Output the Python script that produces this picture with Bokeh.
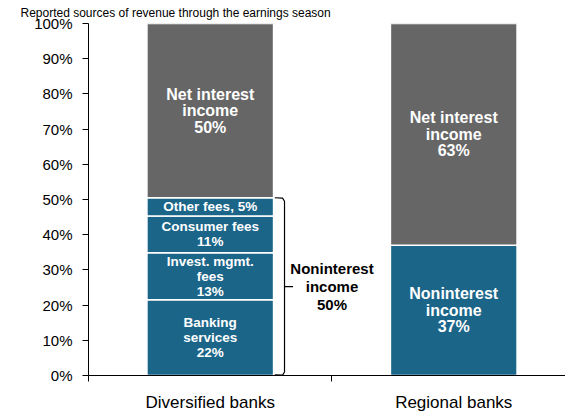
from bokeh.plotting import figure
from bokeh.models import Range1d, FixedTicker, ColumnDataSource
from bokeh.core.properties import value
from bokeh.embed import file_html
from bokeh.resources import INLINE

# ---- data ----
title_text = "Reported sources of revenue through the earnings season"
categories = ["Diversified banks", "Regional banks"]
div_labels = ["Banking\nservices\n22%", "Invest. mgmt.\nfees\n13%", "Consumer fees\n11%",
              "Other fees, 5%", "Net interest\nincome\n50%"]
div_values = [21.5, 13.4, 10.4, 5.2, 49.5]
div_kinds = ["non", "non", "non", "non", "net"]
reg_labels = ["Noninterest\nincome\n37%", "Net interest\nincome\n63%"]
reg_values = [37.0, 63.0]
reg_kinds = ["non", "net"]
bracket_label = "Noninterest\nincome\n50%"
y_ticks = [0, 10, 20, 30, 40, 50, 60, 70, 80, 90, 100]

BLUE = "#1B6589"
GRAY = "#666666"
FONT = "Liberation Sans"
BAR_W = 0.52

# ---- build stacked sources ----
rows = dict(x=[], bottom=[], top=[], color=[], label=[], mid=[], big=[])
for ci, (vals, labs, kinds) in enumerate([(div_values, div_labels, div_kinds),
                                          (reg_values, reg_labels, reg_kinds)]):
    acc = 0.0
    for v, l, k in zip(vals, labs, kinds):
        rows["x"].append(ci + 0.5)
        rows["bottom"].append(acc)
        rows["top"].append(acc + v)
        rows["mid"].append(acc + v / 2)
        rows["color"].append(BLUE if k == "non" else GRAY)
        rows["label"].append(l)
        rows["big"].append(v > 30)
        acc += v
src = ColumnDataSource(rows)
big_idx = [i for i, b in enumerate(rows["big"]) if b]
small_idx = [i for i, b in enumerate(rows["big"]) if not b]
src_big = ColumnDataSource({k: [rows[k][i] for i in big_idx] for k in ("x", "mid", "label")})
src_small = ColumnDataSource({k: [rows[k][i] for i in small_idx] for k in ("x", "mid", "label")})

p = figure(width=565, height=414, output_backend="svg", toolbar_location=None,
           x_range=Range1d(0, 1.959), y_range=Range1d(0, 100),
           min_border_left=88, min_border_right=0, min_border_top=23, min_border_bottom=32)
p.outline_line_color = None
p.xgrid.visible = False
p.ygrid.visible = False
p.background_fill_color = "white"
p.border_fill_color = "white"

# heading at the very top
p.title.text = title_text
p.title.text_font = FONT
p.title.text_font_size = "12px"
p.title.text_font_style = "normal"
p.title.text_color = "black"
p.title.align = "left"
p.title.offset = -68
p.title.standoff = 7

p.vbar(x="x", bottom="bottom", top="top", width=BAR_W, fill_color="color",
       line_color="white", line_width=1.5, source=src)
p.text(x="x", y="mid", text="label", source=src_big, text_align="center", text_baseline="middle",
       text_color="white", text_font=value(FONT), text_font_style="bold",
       text_font_size="16px", text_line_height=0.97)
p.text(x="x", y="mid", text="label", source=src_small, text_align="center", text_baseline="middle",
       text_color="white", text_font=value(FONT), text_font_style="bold",
       text_font_size="13.5px", text_line_height=0.99)

# bracket spanning the noninterest segments of the first bar
non_top = sum(v for v, k in zip(div_values, div_kinds) if k == "non")
non_mid = non_top / 2
x0 = 0.5 + BAR_W / 2 + 0.005
x1 = x0 + 0.04
x2 = x1 + 0.035
bx = [x0, x1 - 0.008, x1, x1, x2, x1, x1, x1 - 0.008, x0]
by = [non_top, non_top - 0.1, non_top - 1.0, non_mid, non_mid, non_mid, 1.0, 0.1, 0.2]
p.line(bx, by, line_color="black", line_width=1.2)
p.text(x=[1.0], y=[non_mid], text=[bracket_label], text_align="center",
       text_baseline="middle", text_color="black", text_font=value(FONT),
       text_font_style="bold", text_font_size="15px", text_line_height=1.08)

# axes
yax = p.yaxis[0]
yax.ticker = FixedTicker(ticks=y_ticks)
yax.major_label_overrides = {t: f"{t}%" for t in y_ticks}
yax.major_tick_out = 6
yax.major_tick_in = 0
yax.minor_tick_line_color = None
yax.axis_line_color = "black"
yax.major_tick_line_color = "black"
yax.major_label_text_font = FONT
yax.major_label_text_font_size = "15px"
yax.major_label_text_color = "black"
yax.major_label_standoff = 10

xax = p.xaxis[0]
xax.ticker = FixedTicker(ticks=[0.5, 1.5], minor_ticks=[0, 1, 2])
xax.major_label_overrides = {0.5: categories[0], 1.5: categories[1]}
xax.major_tick_line_color = None
xax.major_tick_out = 0
xax.major_tick_in = 0
xax.minor_tick_out = 6
xax.minor_tick_in = 0
xax.minor_tick_line_color = "black"
xax.axis_line_color = "black"
xax.major_label_text_font = FONT
xax.major_label_text_font_size = "17px"
xax.major_label_text_color = "black"
xax.major_label_standoff = 11

open("out.html", "w").write(file_html(p, INLINE))
